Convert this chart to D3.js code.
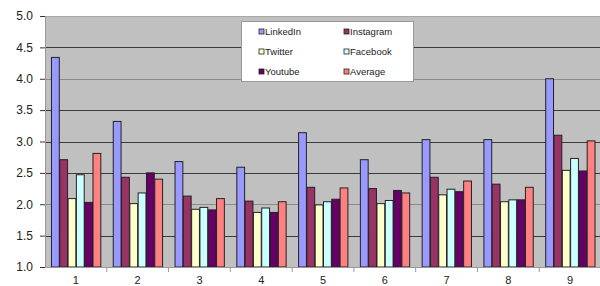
<!DOCTYPE html>
<html><head><meta charset="utf-8">
<script src="https://cdn.jsdelivr.net/npm/d3@7"></script>
<style>body{margin:0;background:#fff;}svg{display:block;font-family:"Liberation Sans",Arial,sans-serif;}</style>
</head><body>
<svg id="c" width="600" height="286"></svg>
<script>
const categories = ["1","2","3","4","5","6","7","8","9"];
const seriesNames = ["LinkedIn","Instagram","Twitter","Facebook","Youtube","Average"];
const seriesColors = ["#9999ff","#993366","#ffffcc","#ccffff","#660066","#ff8080"];
const linkedin  = [4.34,3.32,2.68,2.59,3.14,2.71,3.03,3.03,4.00];
const instagram = [2.71,2.43,2.13,2.05,2.27,2.25,2.43,2.32,3.10];
const twitter   = [2.09,2.01,1.92,1.87,1.99,2.01,2.15,2.04,2.54];
const facebook  = [2.47,2.18,1.95,1.94,2.04,2.06,2.24,2.07,2.73];
const youtube   = [2.03,2.50,1.91,1.87,2.08,2.22,2.20,2.07,2.53];
const average   = [2.81,2.40,2.09,2.04,2.26,2.18,2.37,2.27,3.01];
const yTicks = [1.0,1.5,2.0,2.5,3.0,3.5,4.0,4.5,5.0];
const seriesValues = [linkedin,instagram,twitter,facebook,youtube,average];

const svg = d3.select("#c");
const L = 45, R = 601, T = 16, B = 267;
const x0 = d3.scaleBand().domain(categories).range([L, R]).paddingInner(0).paddingOuter(0);
const x1 = d3.scaleBand().domain(seriesNames).range([0, x0.bandwidth()]).paddingOuter(0.72).paddingInner(0);
const y = d3.scaleLinear().domain([1, 5]).range([B, T]);

// plot area
svg.append("rect").attr("x", L).attr("y", T).attr("width", R - L).attr("height", B - T)
  .attr("fill", "#c0c0c0");
svg.append("line").attr("x1", L).attr("x2", R).attr("y1", T + 0.5).attr("y2", T + 0.5)
  .attr("stroke", "#a8a8a8");
// gridlines
svg.append("g").selectAll("line").data(yTicks.filter(d => d > 1 && d < 5)).join("line")
  .attr("x1", L).attr("x2", R)
  .attr("y1", d => Math.round(y(d)) + 0.5).attr("y2", d => Math.round(y(d)) + 0.5)
  .attr("stroke", d => (d === 4 || d === 2) ? "#8a8a8a" : "#3a3a3a").attr("stroke-width", 1.2);

// bars
const groups = svg.append("g").selectAll("g").data(categories).join("g")
  .attr("transform", d => `translate(${x0(d)},0)`);
groups.selectAll("rect").data((c, i) => seriesNames.map((s, j) => ({s, j, v: seriesValues[j][i]}))).join("rect")
  .attr("x", d => x1(d.s) + 0.5)
  .attr("y", d => y(d.v))
  .attr("width", x1.bandwidth() - 0.5)
  .attr("height", d => y(1) - y(d.v))
  .attr("fill", d => seriesColors[d.j])
  .attr("stroke", "#222").attr("stroke-width", 1);

// y axis
const yAxis = d3.axisLeft(y).tickValues(yTicks).tickFormat(d3.format(".1f")).tickSize(5).tickPadding(7);
const gy = svg.append("g").attr("transform", `translate(${L},0)`).call(yAxis);
gy.select(".domain").attr("stroke", "#999");
gy.selectAll(".tick line").attr("stroke", "#333");
gy.selectAll("text").attr("font-size", 12).attr("fill", "#222");

// x axis
const xAxis = d3.axisBottom(x0).tickSize(0).tickPadding(9);
const gx = svg.append("g").attr("transform", `translate(0,${B})`).call(xAxis);
gx.select(".domain").attr("stroke", "#999");
gx.selectAll("text").attr("font-size", 11).attr("fill", "#222");
svg.append("g").selectAll("line").data(categories.slice(1)).join("line")
  .attr("x1", d => x0(d)).attr("x2", d => x0(d)).attr("y1", B).attr("y2", B + 5)
  .attr("stroke", "#999");

// legend
const lg = svg.append("g");
lg.append("rect").attr("x", 241.5).attr("y", 21.5).attr("width", 172).attr("height", 60)
  .attr("fill", "#fff").attr("stroke", "#999");
const lx = [259, 344], ly = [31.5, 51.5, 71.5];
const items = lg.selectAll("g").data(seriesNames).join("g")
  .attr("transform", (d, i) => `translate(${lx[i % 2]},${ly[Math.floor(i / 2)]})`);
items.append("rect").attr("x", 0).attr("y", -2.5).attr("width", 5).attr("height", 5)
  .attr("fill", (d, i) => seriesColors[i]).attr("stroke", "#222").attr("stroke-width", 0.8);
items.append("text").attr("x", 6).attr("y", 3.5).attr("font-size", 9.5).attr("fill", "#222")
  .text(d => d);
</script>
</body></html>
